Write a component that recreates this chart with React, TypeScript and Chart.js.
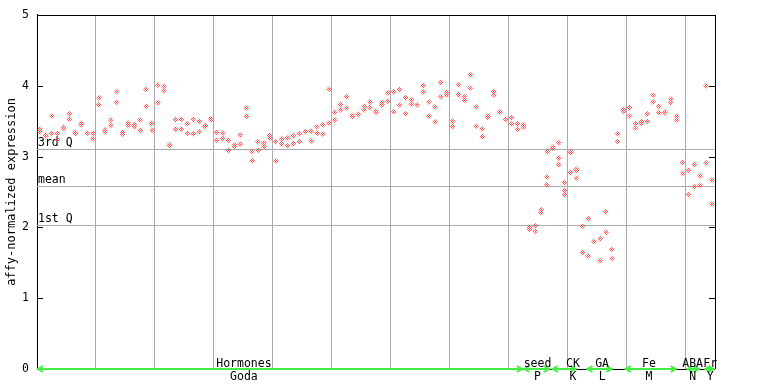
import React, { useEffect, useRef } from 'react';
import { Chart, registerables } from 'chart.js';

Chart.register(...registerables);

// replicate values per sample (sample index = array index)
const rep1: (number | null)[] = [
  3.39, 3.30, 3.57, 3.33, 3.41, 3.60, 3.34, 3.47, 3.33, 3.33,
  3.83, 3.38, 3.52, 3.92, 3.34, 3.47, 3.45, 3.52, 3.95, 3.47,
  4.01, 3.99, 3.17, 3.52, 3.53, 3.46, 3.53, 3.50, 3.44, 3.53,
  3.34, 3.33, 3.23, 3.16, 3.30, 3.69, 3.07, 3.21, 3.19, 3.30,
  3.21, 3.25, 3.26, 3.29, 3.32, 3.35, 3.36, 3.42, 3.45, 3.95,
  3.63, 3.74, 3.84, 3.58, 3.60, 3.71, 3.77, 3.64, 3.76, 3.90,
  3.91, 3.95, 3.83, 3.80, 3.73, 4.00, 3.77, 3.70, 4.05, 3.91,
  3.50, 4.01, 3.84, 4.15, 3.70, 3.39, 3.57, 3.92, 3.63, 3.53,
  3.55, 3.46, 3.45, 2.00, 2.02, 2.25, 3.07, 3.13, 3.19, 2.63,
  3.07, 2.82, 2.02, 2.12, 1.80, 1.84, 2.22, 1.69, 3.32, 3.67,
  3.69, 3.47, 3.50, 3.60, 3.87, 3.71, 3.63, 3.81, 3.57, 2.92,
  2.81, 2.88, 2.73, 4.00, 2.67,
];
const rep2: (number | null)[] = [
  3.35, 3.285, 3.33, 3.24, 3.395, 3.53, 3.325, 3.45, null, 3.25,
  3.73, 3.35, 3.44, 3.77, 3.32, 3.44, 3.42, 3.37, 3.71, 3.37,
  3.76, 3.93, 3.155, 3.39, 3.39, 3.33, 3.32, 3.35, 3.425, 3.52,
  3.23, 3.26, 3.09, 3.145, 3.18, 3.57, 2.94, 3.09, 3.14, 3.26,
  2.94, 3.18, 3.15, 3.19, 3.21, null, 3.22, 3.33, 3.32, 3.47,
  3.52, 3.66, 3.69, 3.565, null, 3.66, 3.69, 3.625, 3.73, 3.78,
  3.63, 3.73, 3.60, 3.74, null, 3.91, 3.57, 3.49, 3.84, 3.87,
  3.42, 3.87, 3.80, 3.97, 3.43, 3.28, 3.55, 3.87, null, 3.515,
  3.46, 3.39, 3.42, 1.97, 1.95, 2.21, 2.71, 3.115, 2.98, 2.52,
  3.055, 2.805, 1.64, 1.60, null, 1.53, 1.93, 1.56, 3.21, 3.64,
  3.57, 3.40, 3.485, 3.50, 3.77, 3.62, 3.615, 3.76, 3.52, 2.76,
  2.46, 2.57, 2.59, 2.91, 2.33,
];
const rep3Index = [86, 88, 89, 90, 91, 102];
const rep3Values = [2.60, 2.88, 2.46, 2.78, 2.70, 3.47];

const yTicks = [0, 1, 2, 3, 4, 5];
const gridAt = [9.5, 19.5, 29.5, 39.5, 49.5, 59.5, 69.5, 79.5, 89.5, 99.5, 109.5];

const quartileValues = [3.108, 2.587, 2.038];
const quartileLabels = ['3rd Q', 'mean', '1st Q'];

const groupNames = ['Hormones', 'seed', 'CK', 'GA', 'Fe', 'ABA', 'Fr'];
const groupSubNames = ['Goda', 'P', 'K', 'L', 'M', 'N', 'Y'];
const groupStart = [-0.5, 82.0, 86.8, 92.7, 99.2, 109.7, 112.7];
const groupEnd = [81.9, 86.5, 91.0, 97.1, 108.0, 111.9, 114.4];
const groupLabelAt = [34.6, 84.4, 90.4, 95.35, 103.3, 110.7, 113.7];

const yTitle = 'affy-normalized expression';
const FONT = '"DejaVu Sans Mono", monospace';

export default function App() {
  const ref = useRef<HTMLCanvasElement>(null);

  useEffect(() => {
    document.body.style.margin = '0';
    const canvas = ref.current!;
    const ctx = canvas.getContext('2d')!;

    const pc = document.createElement('canvas');
    pc.width = 2;
    pc.height = 2;
    const pg = pc.getContext('2d')!;
    pg.fillStyle = '#ff5050';
    pg.fillRect(0, 0, 1, 1);
    pg.fillRect(1, 1, 1, 1);
    const pattern = ctx.createPattern(pc, 'repeat') || 'rgba(255,80,80,0.55)';

    const toPts = (arr: (number | null)[]) =>
      arr.map((v, i) => (v == null ? null : { x: i, y: v })).filter(Boolean) as { x: number; y: number }[];
    const d1 = toPts(rep1);
    const d2 = toPts(rep2);
    const d3 = rep3Index.map((i, k) => ({ x: i, y: rep3Values[k] }));

    const ds = (data: any[]) => ({
      data,
      pointStyle: 'rectRot' as const,
      pointRadius: 3,
      pointHoverRadius: 3,
      pointBorderWidth: 0,
      backgroundColor: pattern as any,
      borderColor: 'rgba(0,0,0,0)',
      showLine: false,
    });

    const overlay = {
      id: 'overlay',
      beforeDatasetsDraw(chart: any) {
        const { ctx: c, chartArea: a, scales } = chart;
        const y = scales.y;
        c.save();
        c.strokeStyle = '#aaaaaa';
        c.lineWidth = 1;
        quartileValues.forEach((v) => {
          const py = Math.round(y.getPixelForValue(v)) + 0.5;
          c.beginPath();
          c.moveTo(a.left, py);
          c.lineTo(a.right, py);
          c.stroke();
        });
        c.fillStyle = '#000';
        c.font = '11.5px ' + FONT;
        c.textAlign = 'left';
        c.textBaseline = 'alphabetic';
        quartileValues.forEach((v, k) => {
          const py = y.getPixelForValue(v);
          c.fillText(quartileLabels[k], a.left + 1, py - 3);
        });
        c.restore();
      },
      afterDatasetsDraw(chart: any) {
        const { ctx: c, chartArea: a, scales } = chart;
        const x = scales.x;
        const y = scales.y;
        c.save();
        // frame
        c.strokeStyle = '#000';
        c.lineWidth = 1;
        c.beginPath();
        c.moveTo(a.left, Math.round(a.top) + 0.5);
        c.lineTo(a.right, Math.round(a.top) + 0.5);
        c.moveTo(Math.round(a.right) + 0.5, a.top);
        c.lineTo(Math.round(a.right) + 0.5, a.bottom);
        c.moveTo(a.left, Math.round(a.bottom) + 0.5);
        c.lineTo(a.right, Math.round(a.bottom) + 0.5);
        c.stroke();
        // inward ticks
        c.beginPath();
        yTicks.forEach((v) => {
          const py = Math.round(y.getPixelForValue(v)) + 0.5;
          c.moveTo(a.left, py);
          c.lineTo(a.left + 6, py);
          c.moveTo(a.right, py);
          c.lineTo(a.right - 6, py);
        });
        c.stroke();
        // group lines
        const gy = Math.round(a.bottom);
        c.strokeStyle = '#44ee44';
        c.lineWidth = 2;
        groupStart.forEach((s, k) => {
          const xs = x.getPixelForValue(s);
          const xe = x.getPixelForValue(groupEnd[k]);
          c.beginPath();
          c.moveTo(xs, gy);
          c.lineTo(xe, gy);
          c.moveTo(xs + 6, gy - 3);
          c.lineTo(xs + 1, gy);
          c.lineTo(xs + 6, gy + 3);
          c.moveTo(xe - 6, gy - 3);
          c.lineTo(xe - 1, gy);
          c.lineTo(xe - 6, gy + 3);
          c.stroke();
        });
        // group labels
        c.fillStyle = '#000';
        c.font = '11.5px ' + FONT;
        c.textAlign = 'center';
        c.textBaseline = 'alphabetic';
        groupNames.forEach((n, k) => {
          const px = x.getPixelForValue(groupLabelAt[k]);
          c.fillText(n, px, a.bottom - 2.5);
          c.fillText(groupSubNames[k], px, a.bottom + 10.5);
        });
        // y title
        c.save();
        c.translate(15, (a.top + a.bottom) / 2);
        c.rotate(-Math.PI / 2);
        c.font = '12px ' + FONT;
        c.textAlign = 'center';
        c.textBaseline = 'alphabetic';
        c.fillText(yTitle, 0, 0);
        c.restore();
        c.restore();
      },
    };

    const chart = new Chart(canvas, {
      type: 'scatter',
      data: { datasets: [ds(d1), ds(d2), ds(d3)] },
      options: {
        responsive: false,
        animation: false,
        events: [],
        layout: { padding: { top: 14, right: 53, left: 0, bottom: 0 } },
        plugins: { legend: { display: false }, tooltip: { enabled: false } },
        scales: {
          x: {
            type: 'linear',
            min: -0.5,
            max: 114.5,
            afterBuildTicks: (s: any) => {
              s.ticks = gridAt.map((v) => ({ value: v }));
            },
            afterFit: (s: any) => {
              s.height = 15;
            },
            ticks: { display: false },
            grid: { color: '#aaaaaa', drawTicks: false, lineWidth: 1 },
            border: { display: false },
          },
          y: {
            type: 'linear',
            min: 0,
            max: 5,
            afterBuildTicks: (s: any) => {
              s.ticks = yTicks.map((v) => ({ value: v }));
            },
            afterFit: (s: any) => {
              s.width = 37;
            },
            ticks: {
              color: '#000',
              padding: 8,
              font: { family: FONT, size: 11.5 },
            },
            grid: { display: false, drawTicks: false },
            border: { display: true, color: '#000', width: 1 },
          },
        },
      },
      plugins: [overlay],
    });

    return () => chart.destroy();
  }, []);

  return (
    <div style={{ width: 768, height: 384 }}>
      <canvas ref={ref} width={768} height={384} />
    </div>
  );
}
